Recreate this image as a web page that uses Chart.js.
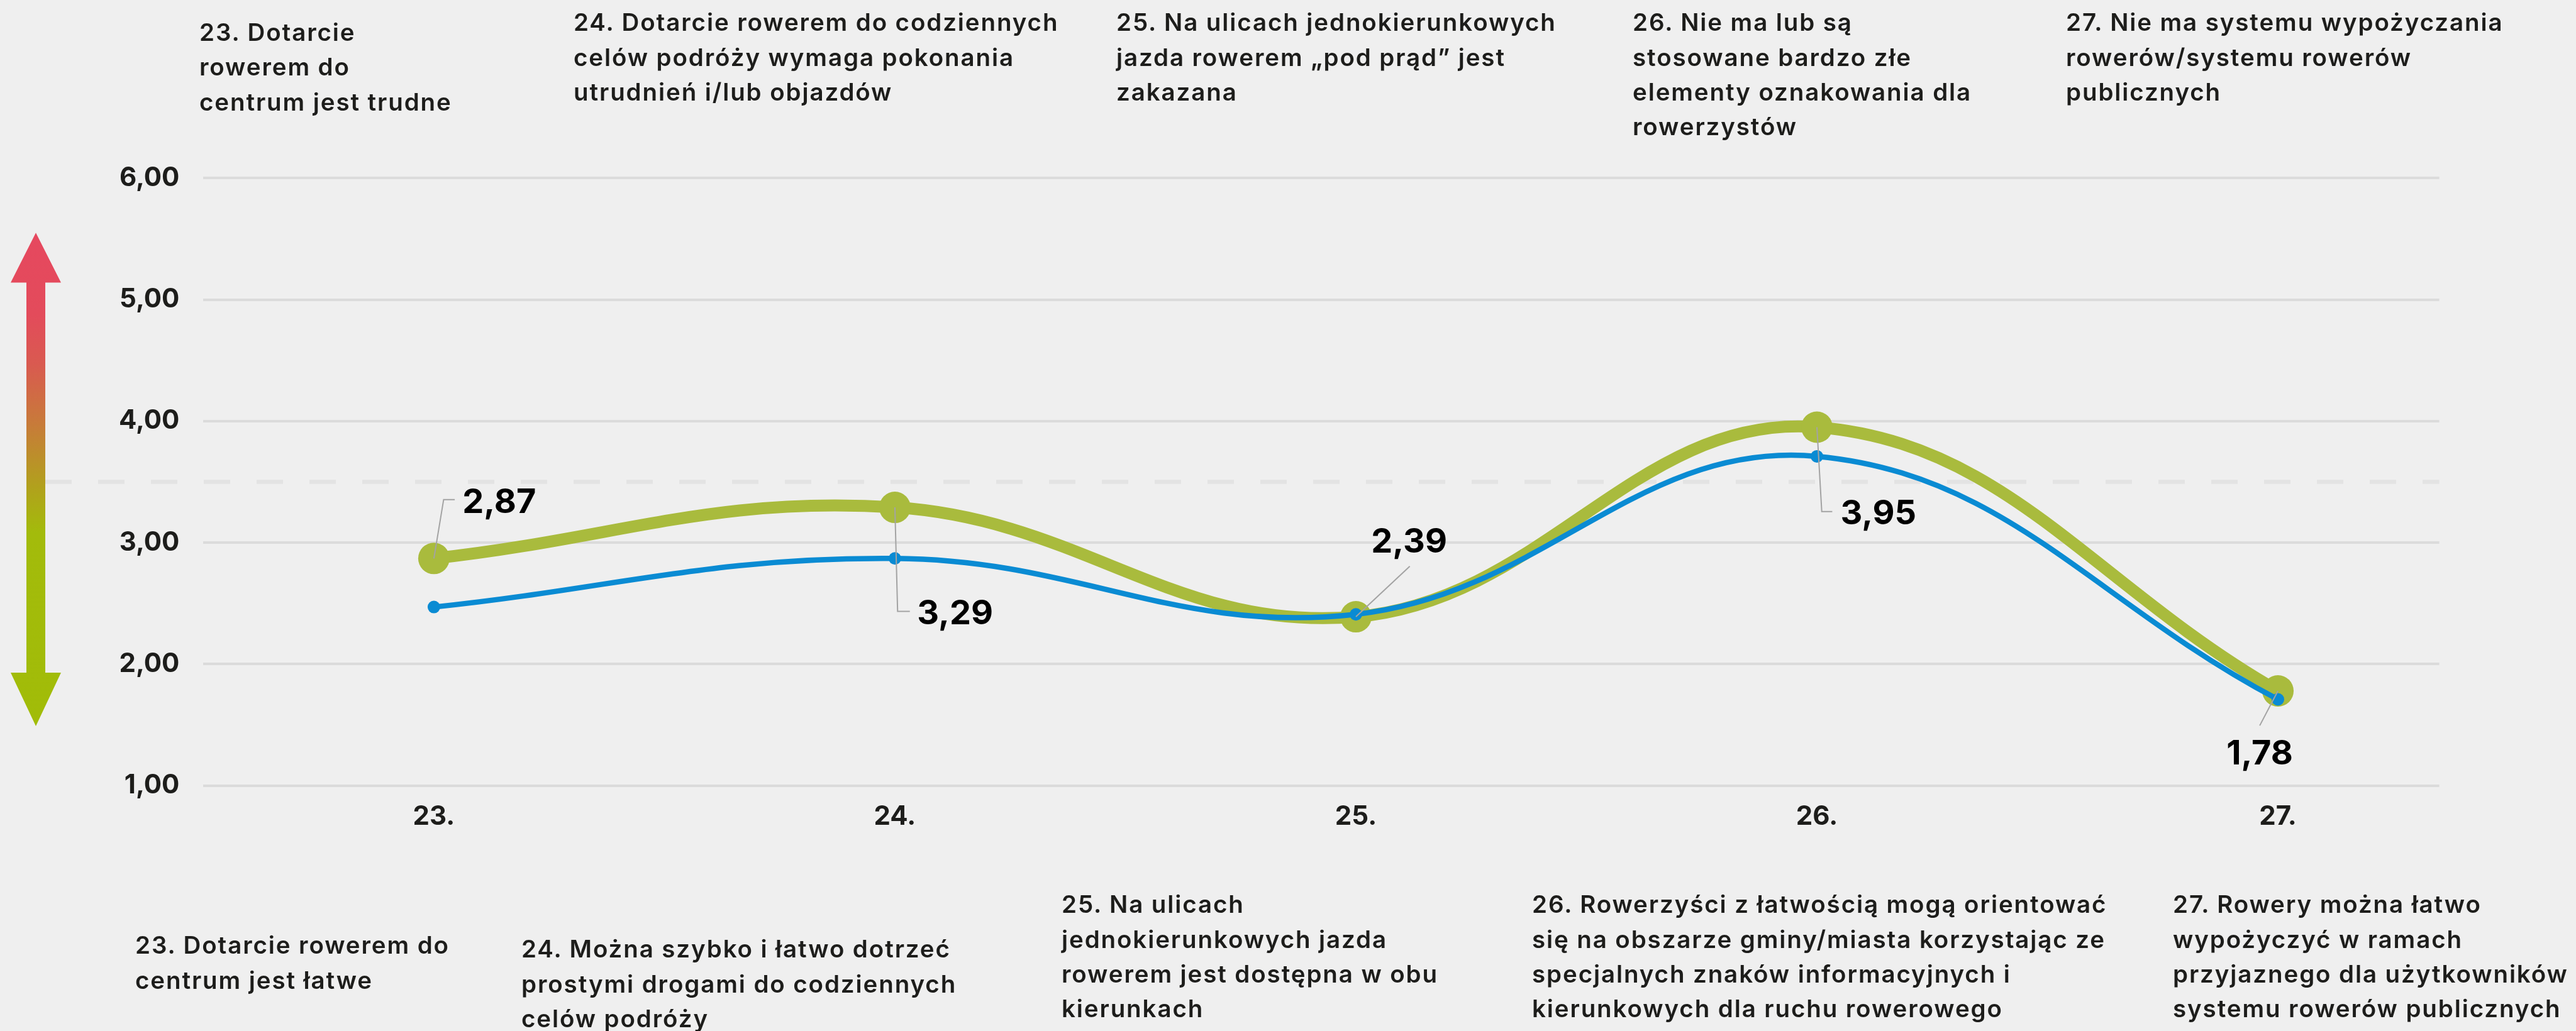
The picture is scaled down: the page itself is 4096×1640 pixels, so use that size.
<!DOCTYPE html>
<html>
<head>
<meta charset="utf-8">
<script src="https://cdn.jsdelivr.net/npm/chart.js@4.4.1/dist/chart.umd.min.js"></script>
<style>
  html, body { margin: 0; padding: 0; background: #efefef; width: 4096px; height: 1640px; overflow: hidden; }
  #wrap { position: relative; width: 4096px; height: 1640px; }
  #c { position: absolute; left: 0; top: 0; }
  .q { position: absolute; font-family: Inter, "Open Sans", sans-serif; font-weight: 600; font-size: 38.5px;
       line-height: 55.3px; letter-spacing: 1.9px; color: #1d1d1b; white-space: nowrap; }
</style>
</head>
<body>
<div id="wrap"><canvas id="c" width="4096" height="1640"></canvas></div>
<script>
// ---------------- DATA ----------------
const categories = [23, 24, 25, 26, 27];
const categoryLabels = ['23.', '24.', '25.', '26.', '27.'];
const greenValues = [2.87, 3.29, 2.39, 3.95, 1.78];
const blueValues = [2.47, 2.87, 2.41, 3.71, 1.71];
const greenValueLabels = ['2,87', '3,29', '2,39', '3,95', '1,78'];
const yTickValues = [1, 2, 3, 4, 5, 6];
const yTickLabels = ['1,00', '2,00', '3,00', '4,00', '5,00', '6,00'];
const thresholdValue = 3.5;
const topStatements = [
  ['23. Dotarcie', 'rowerem do', 'centrum jest trudne'],
  ['24. Dotarcie rowerem do codziennych', 'celów podróży wymaga pokonania', 'utrudnień i/lub objazdów'],
  ['25. Na ulicach jednokierunkowych', 'jazda rowerem „pod prąd” jest', 'zakazana'],
  ['26. Nie ma lub są', 'stosowane bardzo złe', 'elementy oznakowania dla', 'rowerzystów'],
  ['27. Nie ma systemu wypożyczania', 'rowerów/systemu rowerów', 'publicznych']
];
const bottomStatements = [
  ['23. Dotarcie rowerem do', 'centrum jest łatwe'],
  ['24. Można szybko i łatwo dotrzeć', 'prostymi drogami do codziennych', 'celów podróży'],
  ['25. Na ulicach', 'jednokierunkowych jazda', 'rowerem jest dostępna w obu', 'kierunkach'],
  ['26. Rowerzyści z łatwością mogą orientować', 'się na obszarze gminy/miasta korzystając ze', 'specjalnych znaków informacyjnych i', 'kierunkowych dla ruchu rowerowego'],
  ['27. Rowery można łatwo', 'wypożyczyć w ramach', 'przyjaznego dla użytkowników', 'systemu rowerów publicznych']
];

// ---------------- LAYOUT (pixels, not data) ----------------
const topPos = [[317, 24], [912, 8.4], [1775, 8.4], [2596, 8.4], [3285, 8.4]];
const bottomPos = [[215, 1476.4], [829, 1482.4], [1688, 1411.4], [2436, 1411.4], [3455, 1411.4]];
// leader line points and label anchor, relative to the green point
const labelLayout = [
  { leader: [[15.5, -93.6], [33.2, -93.6]], text: [45.4, -92], align: 'left' },
  { leader: [[4.3, 165.4], [23.8, 165.4]], text: [35.3, 166.4], align: 'left' },
  { leader: [[85.7, -80.4]], text: [84.7, -121.4], align: 'center' },
  { leader: [[7.7, 134.3], [24.4, 134.3]], text: [37.4, 134.6], align: 'left' },
  { leader: [[-28.9, 55.1]], text: [-29, 97.4], align: 'center' }
];

// ---------------- HTML statements ----------------
const wrap = document.getElementById('wrap');
function addStatements(list, pos) {
  list.forEach((lines, i) => {
    const d = document.createElement('div');
    d.className = 'q';
    d.style.left = pos[i][0] + 'px';
    d.style.top = pos[i][1] + 'px';
    lines.forEach((ln, k) => {
      if (k) d.appendChild(document.createElement('br'));
      d.appendChild(document.createTextNode(ln));
    });
    wrap.appendChild(d);
  });
}
addStatements(topStatements, topPos);
addStatements(bottomStatements, bottomPos);

// ---------------- PLUGINS ----------------
const decorPlugin = {
  id: 'decor',
  beforeDraw(chart) {
    const c = chart.ctx;
    c.save();
    c.fillStyle = '#efefef';
    c.fillRect(0, 0, chart.width, chart.height);
    c.restore();
  },
  beforeDatasetsDraw(chart) {
    const { ctx, chartArea, scales: { y } } = chart;
    const yy = y.getPixelForValue(thresholdValue);
    ctx.save();
    ctx.strokeStyle = '#e3e3e3';
    ctx.lineWidth = 6.5;
    ctx.setLineDash([42, 42]);
    ctx.beginPath();
    ctx.moveTo(72, yy);
    ctx.lineTo(chartArea.right, yy);
    ctx.stroke();
    ctx.setLineDash([]);
    // gradient double arrow
    const cx = 57, sw = 15, hw = 40;
    const tTop = y.getPixelForValue(5.55), hTop = y.getPixelForValue(5.14);
    const hBot = y.getPixelForValue(1.93), tBot = y.getPixelForValue(1.49);
    const g = ctx.createLinearGradient(0, tTop, 0, tBot);
    const span = tBot - tTop;
    const stop = (py, col) => g.addColorStop(Math.min(1, Math.max(0, (py - tTop) / span)), col);
    stop(tTop, '#e6485f');
    stop(tTop + 130, '#e34b5b');
    stop(tTop + 209, '#d95a50');
    stop(tTop + 302, '#c87a3a');
    stop(tTop + 410, '#b0a31b');
    stop(tTop + 477, '#a3bb0b');
    stop(tBot, '#a1bc08');
    ctx.fillStyle = g;
    ctx.beginPath();
    ctx.moveTo(cx, tTop);
    ctx.lineTo(cx + hw, hTop);
    ctx.lineTo(cx + sw, hTop);
    ctx.lineTo(cx + sw, hBot);
    ctx.lineTo(cx + hw, hBot);
    ctx.lineTo(cx, tBot);
    ctx.lineTo(cx - hw, hBot);
    ctx.lineTo(cx - sw, hBot);
    ctx.lineTo(cx - sw, hTop);
    ctx.lineTo(cx - hw, hTop);
    ctx.closePath();
    ctx.fill();
    ctx.restore();
  }
};

const labelPlugin = {
  id: 'valueLabels',
  afterDatasetsDraw(chart) {
    const ctx = chart.ctx;
    const meta = chart.getDatasetMeta(1);
    const F = 54;
    ctx.save();
    meta.data.forEach((pt, i) => {
      const L = labelLayout[i];
      ctx.strokeStyle = '#a3a3a3';
      ctx.lineWidth = 2;
      ctx.beginPath();
      ctx.moveTo(pt.x, pt.y);
      L.leader.forEach(p => ctx.lineTo(pt.x + p[0], pt.y + p[1]));
      ctx.stroke();
      ctx.fillStyle = '#000000';
      ctx.font = '700 ' + F + 'px Inter, "Open Sans", sans-serif';
      ctx.textAlign = L.align;
      ctx.textBaseline = 'alphabetic';
      ctx.fillText(greenValueLabels[i], pt.x + L.text[0], pt.y + L.text[1] + 0.3635 * F);
    });
    ctx.restore();
  }
};

// ---------------- CHART ----------------
const tickFont = { family: 'Inter, "Open Sans", sans-serif', weight: '700', size: 42 };
new Chart(document.getElementById('c'), {
  type: 'line',
  data: {
    datasets: [
      {
        label: 'blue',
        data: categories.map((c, i) => ({ x: c, y: blueValues[i] })),
        borderColor: '#0a8bd3',
        backgroundColor: '#0a8bd3',
        borderWidth: 8.5,
        pointRadius: 10,
        pointBorderWidth: 0,
        tension: 0.4,
        fill: false,
        order: 0
      },
      {
        label: 'green',
        data: categories.map((c, i) => ({ x: c, y: greenValues[i] })),
        borderColor: '#a9bb3d',
        backgroundColor: '#a9bb3d',
        borderWidth: 19,
        pointRadius: 25,
        pointBorderWidth: 0,
        tension: 0.4,
        fill: false,
        order: 1
      }
    ]
  },
  options: {
    responsive: false,
    devicePixelRatio: 1,
    animation: false,
    events: [],
    layout: { padding: { left: 0, top: 283.2, right: 217.4, bottom: 0 } },
    plugins: { legend: { display: false }, tooltip: { enabled: false } },
    scales: {
      x: {
        type: 'linear',
        min: 22.5,
        max: 27.35,
        grid: { display: false },
        border: { display: false },
        afterBuildTicks: s => { s.ticks = categories.map(v => ({ value: v })); },
        afterFit: s => { s.height = 390.2; },
        ticks: {
          callback: v => categoryLabels[categories.indexOf(v)],
          font: tickFont,
          color: '#1d1d1b',
          padding: 16,
          maxRotation: 0,
          autoSkip: false
        }
      },
      y: {
        min: 1,
        max: 6,
        afterBuildTicks: s => { s.ticks = yTickValues.map(v => ({ value: v })); },
        afterFit: s => { s.width = 323.4; },
        grid: { color: '#dbdbdb', lineWidth: 4, drawTicks: false },
        border: { display: false },
        ticks: {
          callback: v => yTickLabels[yTickValues.indexOf(v)],
          font: tickFont,
          color: '#1d1d1b',
          padding: 38
        }
      }
    }
  },
  plugins: [decorPlugin, labelPlugin]
});
</script>
</body>
</html>
